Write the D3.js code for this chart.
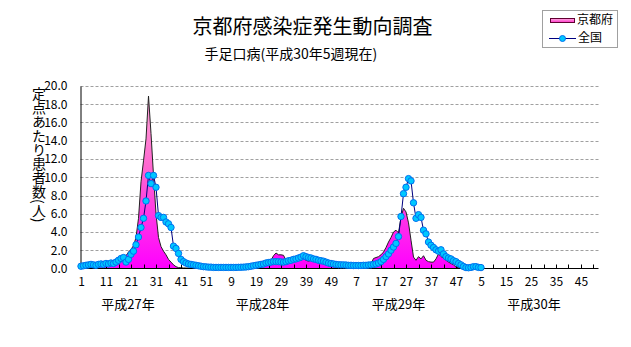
<!DOCTYPE html>
<html><head><meta charset="utf-8">
<script src="https://cdn.jsdelivr.net/npm/d3@7"></script>
<style>
html,body{margin:0;padding:0;background:#fff;}
svg{display:block;}
text{font-family:"Noto Sans CJK JP","Noto Sans",sans-serif;fill:#000;}
text.num{font-family:"Liberation Sans Narrow","Noto Sans CJK JP",sans-serif;}
</style></head><body>
<svg id="chart" width="631" height="347"></svg>
<script>
// ---- data ----
const yearLabels = ["平成27年","平成28年","平成29年","平成30年"];
const weeksPerYear = 52;
const tickLabels = ["1","11","21","31","41","51","9","19","29","39","49","7","17","27","37","47","5","15","25","35","45"];
const yTicks = [0,2,4,6,8,10,12,14,16,18,20];
const seriesNames = ["京都府","全国"];

const kyoto2015 = [0.05,0.1,0.1,0.15,0.1,0.15,0.2,0.2,0.25,0.3,
 0.3,0.4,0.5,0.5,0.6,0.7,0.9,1.1,1.4,1.8,
 2.1,2.5,3.4,5.5,9.5,11.8,14.2,18.9,14.8,10.2,
 6.0,3.4,2.4,1.9,1.5,1.0,0.7,0.4,0.2,0.1,
 0.08,0.06,0.05,0.05,0.04,0.04,0.04,0.03,0.03,0.03,
 0.03,0.03];
const kyoto2016 = [0.03,0.03,0.03,0.03,0.03,0.03,0.03,0.03,0.03,0.03,
 0.03,0.03,0.03,0.05,0.05,0.08,0.1,0.15,0.2,0.3,
 0.35,0.4,0.5,0.7,0.9,1.4,1.7,1.5,1.5,1.45,
 0.9,0.6,0.8,1.0,1.3,1.0,0.9,1.1,0.9,0.8,
 0.9,0.8,0.7,0.6,0.6,0.5,0.4,0.3,0.25,0.2,
 0.15,0.1];
const kyoto2017 = [0.1,0.1,0.08,0.08,0.05,0.05,0.05,0.08,0.08,0.1,
 0.15,0.3,0.5,1.1,1.2,1.3,1.5,1.8,2.3,2.9,
 3.4,4.0,4.2,3.9,5.6,6.6,6.2,5.0,3.1,1.25,
 0.9,1.3,1.05,1.4,0.9,0.75,0.7,0.7,1.05,1.6,
 1.3,1.15,0.9,0.7,0.55,0.4,0.15,0.1,0.05,0.05,
 0.05,0.05];
const kyoto2018 = [0.05,0.05,0.05,0.05,0.05];

const national2015 = [0.25,0.3,0.35,0.4,0.45,0.4,0.35,0.45,0.5,0.45,
 0.55,0.5,0.6,0.55,0.7,0.9,1.1,1.2,0.7,1.0,
 1.55,1.9,2.6,3.45,4.5,5.5,7.4,10.2,9.3,10.2,
 8.9,5.8,5.6,5.6,5.1,4.9,4.5,2.45,2.2,1.65,
 1.0,0.75,0.6,0.5,0.45,0.4,0.35,0.3,0.25,0.2,
 0.18,0.15];
const national2016 = [0.15,0.12,0.12,0.12,0.12,0.12,0.12,0.12,0.12,0.12,
 0.12,0.13,0.14,0.15,0.17,0.2,0.25,0.3,0.35,0.4,
 0.45,0.5,0.6,0.65,0.7,0.75,0.75,0.75,0.72,0.7,
 0.75,0.85,0.9,1.0,1.05,1.15,1.25,1.4,1.3,1.2,
 1.15,1.05,1.0,0.9,0.85,0.8,0.7,0.6,0.55,0.5,
 0.45,0.42];
const national2017 = [0.4,0.4,0.38,0.35,0.35,0.33,0.33,0.33,0.33,0.35,
 0.35,0.38,0.4,0.45,0.5,0.6,0.75,1.0,1.3,1.6,
 2.0,2.35,2.75,3.5,5.7,8.2,8.9,9.85,9.6,7.2,
 5.5,5.9,5.6,4.2,3.8,2.9,2.55,2.3,2.05,1.9,
 2.05,1.6,1.3,1.15,1.05,0.85,0.75,0.55,0.4,0.22,
 0.1,0.08];
const national2018 = [0.12,0.2,0.2,0.12,0.1];

const kyoto = [].concat(kyoto2015, kyoto2016, kyoto2017, kyoto2018);
const national = [].concat(national2015, national2016, national2017, national2018);

// ---- layout ----
const svg = d3.select("#chart");
const nCat = yearLabels.length * weeksPerYear;
const plotLeft = 81, step = 2.5;
const x = d3.scaleLinear().domain([0, nCat - 1]).range([plotLeft, plotLeft + step * (nCat - 1)]);
const y = d3.scaleLinear().domain([0, 20]).range([268.5, 86]);
const xEnd = x(nCat - 1);

const defs = svg.append("defs");
const grad = defs.append("linearGradient").attr("id","pinkGrad")
  .attr("gradientUnits","userSpaceOnUse").attr("x1",0).attr("x2",0).attr("y1",y(20)).attr("y2",y(0));
grad.append("stop").attr("offset","0%").attr("stop-color","#ffb0d8");
grad.append("stop").attr("offset","45%").attr("stop-color","#ff66d0");
grad.append("stop").attr("offset","100%").attr("stop-color","#ff00ff");
const lgGrad = defs.append("linearGradient").attr("id","legGrad")
  .attr("x1",0).attr("x2",0).attr("y1",0).attr("y2",1);
lgGrad.append("stop").attr("offset","0%").attr("stop-color","#ffb0e0");
lgGrad.append("stop").attr("offset","100%").attr("stop-color","#ff33cc");

// gridlines
svg.append("g").selectAll("line").data(yTicks.filter(d => d > 0)).join("line")
  .attr("x1", plotLeft - 0.5).attr("x2", xEnd)
  .attr("y1", d => Math.round(y(d)) + 0.5).attr("y2", d => Math.round(y(d)) + 0.5)
  .attr("stroke", "#a0a0a0").attr("stroke-dasharray", "3,2").attr("stroke-width", 1);

// Kyoto area
const area = d3.area().x((d, i) => x(i)).y0(y(0)).y1(d => y(d));
svg.append("path").datum(kyoto).attr("d", area).attr("fill", "url(#pinkGrad)");
const topLine = d3.line().x((d, i) => x(i)).y(d => y(d));
svg.append("path").datum(kyoto).attr("d", topLine).attr("fill", "none")
  .attr("stroke", "#222").attr("stroke-width", 1);

// axes
const yAxis = d3.axisLeft(y).tickValues(yTicks).tickFormat(d3.format(".1f")).tickSize(0).tickPadding(13);
const gy = svg.append("g").attr("transform", `translate(${plotLeft - 0.5},0)`).call(yAxis);
gy.select(".domain").attr("stroke", "#000");
gy.selectAll("text").attr("class", "num").style("font-size", "12px");

const tickIdx = tickLabels.map((d, i) => i * 10);
const xAxis = d3.axisBottom(x).tickValues(tickIdx).tickFormat((d, i) => tickLabels[i]).tickSize(0).tickPadding(9);
const gx = svg.append("g").attr("transform", `translate(0,${y(0)})`).call(xAxis);
gx.select(".domain").attr("d", `M${plotLeft - 0.5},0H${xEnd}`).attr("stroke", "#000");
gx.selectAll("text").attr("class", "num").style("font-size", "12px");
// minor tick marks every 5 categories (inward)
const minor = d3.range(0, nCat, 5);
svg.append("g").selectAll("line").data(minor).join("line")
  .attr("x1", d => Math.round(x(d)) + 0.5).attr("x2", d => Math.round(x(d)) + 0.5)
  .attr("y1", y(0)).attr("y2", y(0) - 4).attr("stroke", "#000");

// year labels
const yearPos = [18.8, 72.6, 127, 181.2];
svg.append("g").selectAll("text").data(yearLabels).join("text")
  .attr("x", (d, i) => x(yearPos[i])).attr("y", 305).attr("text-anchor", "middle")
  .attr("dominant-baseline", "middle").style("font-size", "13px").text(d => d);

// national line + markers
svg.append("path").datum(national).attr("d", topLine).attr("fill", "none")
  .attr("stroke", "#000080").attr("stroke-width", 1);
svg.append("g").selectAll("circle").data(national).join("circle")
  .attr("cx", (d, i) => x(i)).attr("cy", d => y(d)).attr("r", 3.2)
  .attr("fill", "#00c8ff").attr("stroke", "#0070f0").attr("stroke-width", 1);

// titles
svg.append("text").attr("x", 312.5).attr("y", 34).attr("text-anchor", "middle")
  .style("font-size", "20px").text("京都府感染症発生動向調査");
svg.append("text").attr("x", 204.5).attr("y", 59)
  .style("font-size", "14px").text("手足口病(平成30年5週現在)");

// y axis title (vertical)
svg.append("text").attr("x", 39).attr("y", 87)
  .style("writing-mode", "vertical-rl").style("font-size", "14px")
  .text("定点あたり患者数(人)");

// legend
const lg = svg.append("g");
lg.append("rect").attr("x", 542.5).attr("y", 10.5).attr("width", 75).attr("height", 37)
  .attr("fill", "#fff").attr("stroke", "#a0a0a0");
lg.append("rect").attr("x", 550.5).attr("y", 18.5).attr("width", 24).attr("height", 4)
  .attr("fill", "url(#legGrad)").attr("stroke", "#600030");
lg.append("text").attr("x", 577).attr("y", 21).attr("dominant-baseline", "middle")
  .style("font-size", "12px").text(seriesNames[0]);
lg.append("line").attr("x1", 549).attr("x2", 576).attr("y1", 38.5).attr("y2", 38.5)
  .attr("stroke", "#000080");
lg.append("circle").attr("cx", 562.5).attr("cy", 38.5).attr("r", 3)
  .attr("fill", "#00c8ff").attr("stroke", "#0070f0");
lg.append("text").attr("x", 578).attr("y", 39).attr("dominant-baseline", "middle")
  .style("font-size", "12px").text(seriesNames[1]);
</script>
</body></html>
